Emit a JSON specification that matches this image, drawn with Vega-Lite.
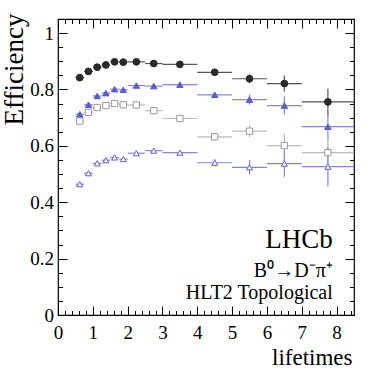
{
  "$schema": "https://vega.github.io/schema/vega-lite/v6.json",
  "width": 296,
  "height": 296,
  "autosize": {"type": "none"},
  "padding": {"left": 58, "top": 19, "right": 30, "bottom": 57},
  "background": "white",
  "config": {
    "view": {"stroke": "black", "strokeWidth": 1.2},
    "font": "Liberation Serif",
    "axis": {
      "domain": false,
      "grid": false,
      "tickColor": "black",
      "tickWidth": 1,
      "labelFont": "Liberation Serif",
      "titleFont": "Liberation Serif",
      "labelColor": "black",
      "titleColor": "black",
      "titleFontWeight": "normal"
    }
  },
  "datasets": {
    "eff": [
      {"series": "A", "x": 0.625, "xlo": 0.5, "xhi": 0.75, "y": 0.842, "ylo": 0.838, "yhi": 0.846},
      {"series": "A", "x": 0.875, "xlo": 0.75, "xhi": 1.0, "y": 0.864, "ylo": 0.860, "yhi": 0.868},
      {"series": "A", "x": 1.125, "xlo": 1.0, "xhi": 1.25, "y": 0.879, "ylo": 0.875, "yhi": 0.883},
      {"series": "A", "x": 1.375, "xlo": 1.25, "xhi": 1.5, "y": 0.887, "ylo": 0.883, "yhi": 0.891},
      {"series": "A", "x": 1.625, "xlo": 1.5, "xhi": 1.75, "y": 0.898, "ylo": 0.894, "yhi": 0.902},
      {"series": "A", "x": 1.875, "xlo": 1.75, "xhi": 2.0, "y": 0.897, "ylo": 0.893, "yhi": 0.901},
      {"series": "A", "x": 2.25, "xlo": 2.0, "xhi": 2.5, "y": 0.898, "ylo": 0.894, "yhi": 0.902},
      {"series": "A", "x": 2.75, "xlo": 2.5, "xhi": 3.0, "y": 0.892, "ylo": 0.887, "yhi": 0.897},
      {"series": "A", "x": 3.5, "xlo": 3.0, "xhi": 4.0, "y": 0.889, "ylo": 0.884, "yhi": 0.894},
      {"series": "A", "x": 4.5, "xlo": 4.0, "xhi": 5.0, "y": 0.861, "ylo": 0.853, "yhi": 0.869},
      {"series": "A", "x": 5.5, "xlo": 5.0, "xhi": 6.0, "y": 0.838, "ylo": 0.822, "yhi": 0.854},
      {"series": "A", "x": 6.5, "xlo": 6.0, "xhi": 7.0, "y": 0.821, "ylo": 0.792, "yhi": 0.850},
      {"series": "A", "x": 7.75, "xlo": 7.0, "xhi": 8.5, "y": 0.756, "ylo": 0.709, "yhi": 0.803},
      {"series": "B", "x": 0.625, "xlo": 0.5, "xhi": 0.75, "y": 0.712, "ylo": 0.707, "yhi": 0.717},
      {"series": "B", "x": 0.875, "xlo": 0.75, "xhi": 1.0, "y": 0.746, "ylo": 0.741, "yhi": 0.751},
      {"series": "B", "x": 1.125, "xlo": 1.0, "xhi": 1.25, "y": 0.777, "ylo": 0.772, "yhi": 0.782},
      {"series": "B", "x": 1.375, "xlo": 1.25, "xhi": 1.5, "y": 0.787, "ylo": 0.782, "yhi": 0.792},
      {"series": "B", "x": 1.625, "xlo": 1.5, "xhi": 1.75, "y": 0.801, "ylo": 0.796, "yhi": 0.806},
      {"series": "B", "x": 1.875, "xlo": 1.75, "xhi": 2.0, "y": 0.799, "ylo": 0.794, "yhi": 0.804},
      {"series": "B", "x": 2.25, "xlo": 2.0, "xhi": 2.5, "y": 0.814, "ylo": 0.809, "yhi": 0.819},
      {"series": "B", "x": 2.75, "xlo": 2.5, "xhi": 3.0, "y": 0.812, "ylo": 0.806, "yhi": 0.818},
      {"series": "B", "x": 3.5, "xlo": 3.0, "xhi": 4.0, "y": 0.817, "ylo": 0.811, "yhi": 0.823},
      {"series": "B", "x": 4.5, "xlo": 4.0, "xhi": 5.0, "y": 0.781, "ylo": 0.772, "yhi": 0.790},
      {"series": "B", "x": 5.5, "xlo": 5.0, "xhi": 6.0, "y": 0.764, "ylo": 0.746, "yhi": 0.782},
      {"series": "B", "x": 6.5, "xlo": 6.0, "xhi": 7.0, "y": 0.743, "ylo": 0.710, "yhi": 0.776},
      {"series": "B", "x": 7.75, "xlo": 7.0, "xhi": 8.5, "y": 0.668, "ylo": 0.618, "yhi": 0.718},
      {"series": "C", "x": 0.625, "xlo": 0.5, "xhi": 0.75, "y": 0.688, "ylo": 0.683, "yhi": 0.693},
      {"series": "C", "x": 0.875, "xlo": 0.75, "xhi": 1.0, "y": 0.719, "ylo": 0.714, "yhi": 0.724},
      {"series": "C", "x": 1.125, "xlo": 1.0, "xhi": 1.25, "y": 0.736, "ylo": 0.731, "yhi": 0.741},
      {"series": "C", "x": 1.375, "xlo": 1.25, "xhi": 1.5, "y": 0.743, "ylo": 0.738, "yhi": 0.748},
      {"series": "C", "x": 1.625, "xlo": 1.5, "xhi": 1.75, "y": 0.750, "ylo": 0.745, "yhi": 0.755},
      {"series": "C", "x": 1.875, "xlo": 1.75, "xhi": 2.0, "y": 0.746, "ylo": 0.741, "yhi": 0.751},
      {"series": "C", "x": 2.25, "xlo": 2.0, "xhi": 2.5, "y": 0.745, "ylo": 0.740, "yhi": 0.750},
      {"series": "C", "x": 2.75, "xlo": 2.5, "xhi": 3.0, "y": 0.725, "ylo": 0.719, "yhi": 0.731},
      {"series": "C", "x": 3.5, "xlo": 3.0, "xhi": 4.0, "y": 0.697, "ylo": 0.691, "yhi": 0.703},
      {"series": "C", "x": 4.5, "xlo": 4.0, "xhi": 5.0, "y": 0.632, "ylo": 0.624, "yhi": 0.640},
      {"series": "C", "x": 5.5, "xlo": 5.0, "xhi": 6.0, "y": 0.652, "ylo": 0.630, "yhi": 0.674},
      {"series": "C", "x": 6.5, "xlo": 6.0, "xhi": 7.0, "y": 0.601, "ylo": 0.557, "yhi": 0.645},
      {"series": "C", "x": 7.75, "xlo": 7.0, "xhi": 8.5, "y": 0.576, "ylo": 0.516, "yhi": 0.636},
      {"series": "D", "x": 0.625, "xlo": 0.5, "xhi": 0.75, "y": 0.464, "ylo": 0.458, "yhi": 0.470},
      {"series": "D", "x": 0.875, "xlo": 0.75, "xhi": 1.0, "y": 0.503, "ylo": 0.497, "yhi": 0.509},
      {"series": "D", "x": 1.125, "xlo": 1.0, "xhi": 1.25, "y": 0.538, "ylo": 0.532, "yhi": 0.544},
      {"series": "D", "x": 1.375, "xlo": 1.25, "xhi": 1.5, "y": 0.549, "ylo": 0.543, "yhi": 0.555},
      {"series": "D", "x": 1.625, "xlo": 1.5, "xhi": 1.75, "y": 0.559, "ylo": 0.553, "yhi": 0.565},
      {"series": "D", "x": 1.875, "xlo": 1.75, "xhi": 2.0, "y": 0.553, "ylo": 0.547, "yhi": 0.559},
      {"series": "D", "x": 2.25, "xlo": 2.0, "xhi": 2.5, "y": 0.574, "ylo": 0.568, "yhi": 0.580},
      {"series": "D", "x": 2.75, "xlo": 2.5, "xhi": 3.0, "y": 0.583, "ylo": 0.576, "yhi": 0.590},
      {"series": "D", "x": 3.5, "xlo": 3.0, "xhi": 4.0, "y": 0.576, "ylo": 0.569, "yhi": 0.583},
      {"series": "D", "x": 4.5, "xlo": 4.0, "xhi": 5.0, "y": 0.540, "ylo": 0.527, "yhi": 0.553},
      {"series": "D", "x": 5.5, "xlo": 5.0, "xhi": 6.0, "y": 0.524, "ylo": 0.498, "yhi": 0.550},
      {"series": "D", "x": 6.5, "xlo": 6.0, "xhi": 7.0, "y": 0.537, "ylo": 0.490, "yhi": 0.584},
      {"series": "D", "x": 7.75, "xlo": 7.0, "xhi": 8.5, "y": 0.526, "ylo": 0.456, "yhi": 0.596}
    ],
    "big": [
      {"label": "LHCb", "x": 7.89, "y": 0.238}
    ],
    "small": [
      {"label": "B⁰→D⁻π⁺", "x": 7.89, "y": 0.135},
      {"label": "HLT2 Topological", "x": 7.89, "y": 0.056}
    ]
  },
  "resolve": {"axis": {"x": "independent", "y": "independent"}},
  "layer": [
    {
      "data": {"name": "eff"},
      "mark": {"type": "rule", "strokeWidth": 1.2},
      "encoding": {
        "x": {"field": "xlo", "type": "quantitative", "scale": {"domain": [0, 8.5], "nice": false, "zero": false},
          "axis": {"orient": "bottom", "values": [0, 1, 2, 3, 4, 5, 6, 7, 8], "tickSize": -9, "labelFontSize": 19, "labelPadding": 32, "labelBaseline": "alphabetic", "format": "~g", "labelFlush": false,
            "title": "lifetimes", "titleFontSize": 23, "titleAlign": "right", "titleBaseline": "alphabetic", "titleX": 294, "titleY": 49, "titleAnchor": null}},
        "x2": {"field": "xhi"},
        "y": {"field": "y", "type": "quantitative", "scale": {"domain": [0, 1.05], "nice": false, "zero": false},
          "axis": {"orient": "left", "values": [0, 0.2, 0.4, 0.6, 0.8, 1], "tickSize": -9, "labelFontSize": 19, "labelPadding": 13.5, "format": "~g", "labelFlush": false,
            "title": "Efficiency", "titleFontSize": 27, "titleAngle": 270, "titleAlign": "right", "titleBaseline": "alphabetic", "titleX": -36, "titleY": -6, "titleAnchor": null}},
        "color": {"field": "series", "type": "nominal", "legend": null,
          "scale": {"domain": ["A", "B", "C", "D"], "range": ["#555555", "#8585e8", "#bbbbbb", "#8585e8"]}}
      }
    },
    {
      "data": {"name": "eff"},
      "mark": {"type": "rule", "strokeWidth": 1.2},
      "encoding": {
        "x": {"field": "x", "type": "quantitative", "scale": {"domain": [0, 8.5], "nice": false, "zero": false},
          "axis": {"orient": "top", "values": [0, 1, 2, 3, 4, 5, 6, 7, 8], "tickSize": -9, "labels": false, "title": null}},
        "y": {"field": "ylo", "type": "quantitative", "scale": {"domain": [0, 1.05], "nice": false, "zero": false},
          "axis": {"orient": "right", "values": [0, 0.2, 0.4, 0.6, 0.8, 1], "tickSize": -9, "labels": false, "title": null}},
        "y2": {"field": "yhi"},
        "color": {"field": "series", "type": "nominal", "legend": null,
          "scale": {"domain": ["A", "B", "C", "D"], "range": ["#555555", "#8585e8", "#bbbbbb", "#8585e8"]}}
      }
    },
    {
      "data": {"name": "eff"},
      "transform": [{"filter": "datum.series === 'C'"}],
      "mark": {"type": "point", "filled": true, "opacity": 1, "strokeWidth": 1, "size": 40, "shape": "square", "fill": "white", "stroke": "#999999"},
      "encoding": {
        "x": {"field": "x", "type": "quantitative", "scale": {"domain": [0, 8.5], "nice": false, "zero": false},
          "axis": {"orient": "bottom", "values": [0.2, 0.4, 0.6, 0.8, 1.2, 1.4, 1.6, 1.8, 2.2, 2.4, 2.6, 2.8, 3.2, 3.4, 3.6, 3.8, 4.2, 4.4, 4.6, 4.8, 5.2, 5.4, 5.6, 5.8, 6.2, 6.4, 6.6, 6.8, 7.2, 7.4, 7.6, 7.8, 8.2, 8.4], "tickSize": -4.5, "labels": false, "title": null}},
        "y": {"field": "y", "type": "quantitative", "scale": {"domain": [0, 1.05], "nice": false, "zero": false},
          "axis": {"orient": "left", "values": [0.05, 0.1, 0.15, 0.25, 0.3, 0.35, 0.45, 0.5, 0.55, 0.65, 0.7, 0.75, 0.85, 0.9, 0.95, 1.05], "tickSize": -4.5, "labels": false, "title": null}}
      }
    },
    {
      "data": {"name": "eff"},
      "transform": [{"filter": "datum.series !== 'C'"}],
      "mark": {"type": "point", "filled": true, "opacity": 1, "strokeWidth": 1},
      "encoding": {
        "x": {"field": "x", "type": "quantitative", "scale": {"domain": [0, 8.5], "nice": false, "zero": false},
          "axis": {"orient": "top", "values": [0.2, 0.4, 0.6, 0.8, 1.2, 1.4, 1.6, 1.8, 2.2, 2.4, 2.6, 2.8, 3.2, 3.4, 3.6, 3.8, 4.2, 4.4, 4.6, 4.8, 5.2, 5.4, 5.6, 5.8, 6.2, 6.4, 6.6, 6.8, 7.2, 7.4, 7.6, 7.8, 8.2, 8.4], "tickSize": -4.5, "labels": false, "title": null}},
        "y": {"field": "y", "type": "quantitative", "scale": {"domain": [0, 1.05], "nice": false, "zero": false},
          "axis": {"orient": "right", "values": [0.05, 0.1, 0.15, 0.25, 0.3, 0.35, 0.45, 0.5, 0.55, 0.65, 0.7, 0.75, 0.85, 0.9, 0.95, 1.05], "tickSize": -4.5, "labels": false, "title": null}},
        "shape": {"field": "series", "type": "nominal", "legend": null,
          "scale": {"domain": ["A", "B", "D"], "range": ["circle", "triangle-up", "triangle-up"]}},
        "fill": {"field": "series", "type": "nominal", "legend": null,
          "scale": {"domain": ["A", "B", "D"], "range": ["#2a2a2a", "#5c5cd6", "#ffffff"]}},
        "stroke": {"field": "series", "type": "nominal", "legend": null,
          "scale": {"domain": ["A", "B", "D"], "range": ["#2a2a2a", "#5c5cd6", "#5c5cd6"]}},
        "size": {"field": "series", "type": "nominal", "legend": null,
          "scale": {"domain": ["A", "B", "D"], "range": [46, 36, 44]}}
      }
    },
    {
      "data": {"name": "big"},
      "mark": {"type": "text", "align": "right", "baseline": "alphabetic", "fontSize": 27, "font": "Liberation Serif", "color": "black"},
      "encoding": {
        "x": {"field": "x", "type": "quantitative", "scale": {"domain": [0, 8.5], "nice": false, "zero": false}, "axis": null},
        "y": {"field": "y", "type": "quantitative", "scale": {"domain": [0, 1.05], "nice": false, "zero": false}, "axis": null},
        "text": {"field": "label"}
      }
    },
    {
      "data": {"name": "small"},
      "mark": {"type": "text", "align": "right", "baseline": "alphabetic", "fontSize": 20, "font": "Liberation Serif", "color": "black"},
      "encoding": {
        "x": {"field": "x", "type": "quantitative", "scale": {"domain": [0, 8.5], "nice": false, "zero": false}, "axis": null},
        "y": {"field": "y", "type": "quantitative", "scale": {"domain": [0, 1.05], "nice": false, "zero": false}, "axis": null},
        "text": {"field": "label"}
      }
    }
  ]
}
